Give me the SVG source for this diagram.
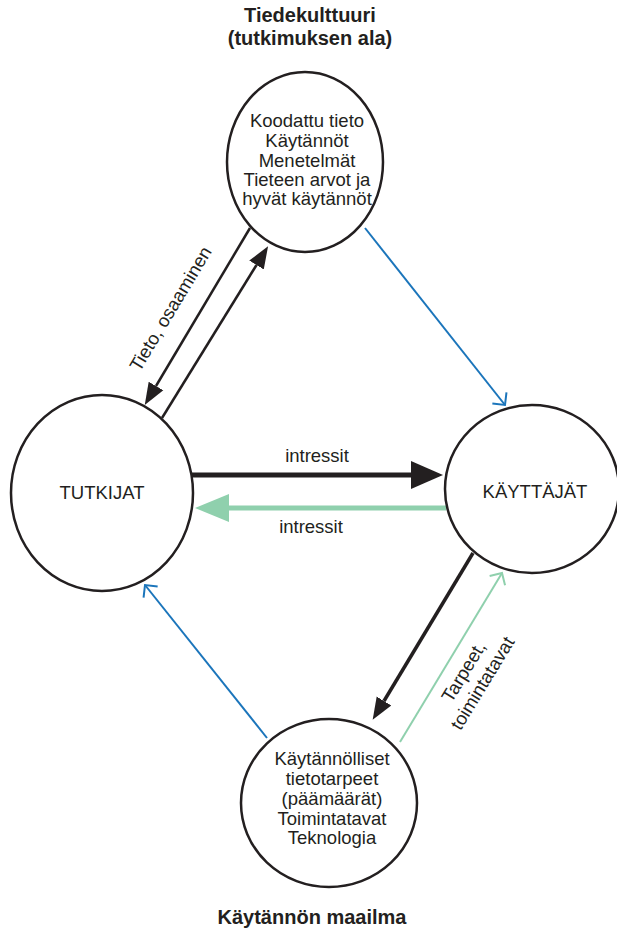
<svg xmlns="http://www.w3.org/2000/svg" width="617" height="932" viewBox="0 0 617 932">
<style>
.node{fill:#fff;stroke:#231f20;stroke-width:2.5}
.t{font-family:"Liberation Sans",Arial,sans-serif;font-size:18.5px;fill:#231f20;text-anchor:middle}
.title{font-family:"Liberation Sans",Arial,sans-serif;font-size:20px;font-weight:bold;fill:#231f20;text-anchor:middle}
.blk{stroke:#231f20;fill:none}
.blue{stroke:#1b75bb;stroke-width:2;fill:none}
.grn{stroke:#8fd0ad;fill:none}
</style>
<defs>
<marker id="ah" markerUnits="userSpaceOnUse" viewBox="0 -10 23 20" markerWidth="23" markerHeight="20" refX="0" refY="0" orient="auto"><path d="M0,-8.5 L22,0 L0,8.5 z" fill="#231f20"/></marker>
<marker id="big" markerUnits="userSpaceOnUse" viewBox="0 -15 33 30" markerWidth="33" markerHeight="30" refX="0" refY="0" orient="auto"><path d="M0,-14 L32,0 L0,14 z" fill="#231f20"/></marker>
<marker id="bigg" markerUnits="userSpaceOnUse" viewBox="0 -15 35 30" markerWidth="35" markerHeight="30" refX="0" refY="0" orient="auto"><path d="M0,-14 L34,0 L0,14 z" fill="#8fd0ad"/></marker>
<marker id="chb" markerUnits="userSpaceOnUse" viewBox="-12 -12 15 24" markerWidth="15" markerHeight="24" refX="0" refY="0" orient="auto"><path d="M-9,-9 L0,0 L-9,9" fill="none" stroke="#1b75bb" stroke-width="2"/></marker>
<marker id="chg" markerUnits="userSpaceOnUse" viewBox="-12 -12 15 24" markerWidth="15" markerHeight="24" refX="0" refY="0" orient="auto"><path d="M-9,-9 L0,0 L-9,9" fill="none" stroke="#8fd0ad" stroke-width="2"/></marker>
</defs>
<rect width="617" height="932" fill="#fff"/>
<text class="title" x="310" y="22">Tiedekulttuuri</text>
<text class="title" x="310" y="45">(tutkimuksen ala)</text>
<text class="title" x="312" y="924">Käytännön maailma</text>
<g id="connectors">
<line class="blk" stroke-width="2.5" x1="250" y1="228" x2="156" y2="386" marker-end="url(#ah)"/>
<line class="blk" stroke-width="2.5" x1="162" y1="418" x2="256.5" y2="265" marker-end="url(#ah)"/>
<line class="blue" x1="365" y1="228" x2="505" y2="405" marker-end="url(#chb)"/>
<line class="blk" stroke-width="5" x1="192" y1="475" x2="411" y2="475" marker-end="url(#big)"/>
<line class="grn" stroke-width="5" x1="446" y1="508" x2="229" y2="508" marker-end="url(#bigg)"/>
<line class="blk" stroke-width="3.5" x1="473" y1="553" x2="384" y2="701" marker-end="url(#ah)"/>
<line class="grn" stroke-width="2" x1="400" y1="742" x2="502" y2="573" marker-end="url(#chg)"/>
<line class="blue" x1="267" y1="738" x2="145" y2="585" marker-end="url(#chb)"/>
<text class="t" x="317" y="462">intressit</text>
<text class="t" x="311" y="533">intressit</text>
<text class="t" transform="rotate(-59 176 312)" x="176" y="312">Tieto, osaaminen</text>
<text class="t" transform="rotate(-58.6 469 675)" x="469" y="675"><tspan x="469">Tarpeet,</tspan><tspan x="469" dy="22">toimintatavat</tspan></text>
</g>
<g id="tiedekulttuuri">
<ellipse class="node" cx="305" cy="162" rx="78" ry="90"/>
<text class="t"><tspan x="307" y="127">Koodattu tieto</tspan><tspan x="307" y="147">Käytännöt</tspan><tspan x="307" y="167">Menetelmät</tspan><tspan x="307" y="186">Tieteen arvot ja</tspan><tspan x="307" y="205">hyvät käytännöt</tspan></text>
</g>
<g id="tutkijat">
<ellipse class="node" cx="102" cy="493" rx="91" ry="98"/>
<text class="t" x="102" y="499">TUTKIJAT</text>
</g>
<g id="kayttajat">
<ellipse class="node" cx="532" cy="489" rx="87" ry="84"/>
<text class="t" x="535" y="498">KÄYTTÄJÄT</text>
</g>
<g id="kaytanto">
<ellipse class="node" cx="329" cy="803" rx="88" ry="84"/>
<text class="t"><tspan x="332" y="765">Käytännölliset</tspan><tspan x="332" y="785">tietotarpeet</tspan><tspan x="332" y="805">(päämäärät)</tspan><tspan x="332" y="825">Toimintatavat</tspan><tspan x="332" y="844">Teknologia</tspan></text>
</g>
</svg>
